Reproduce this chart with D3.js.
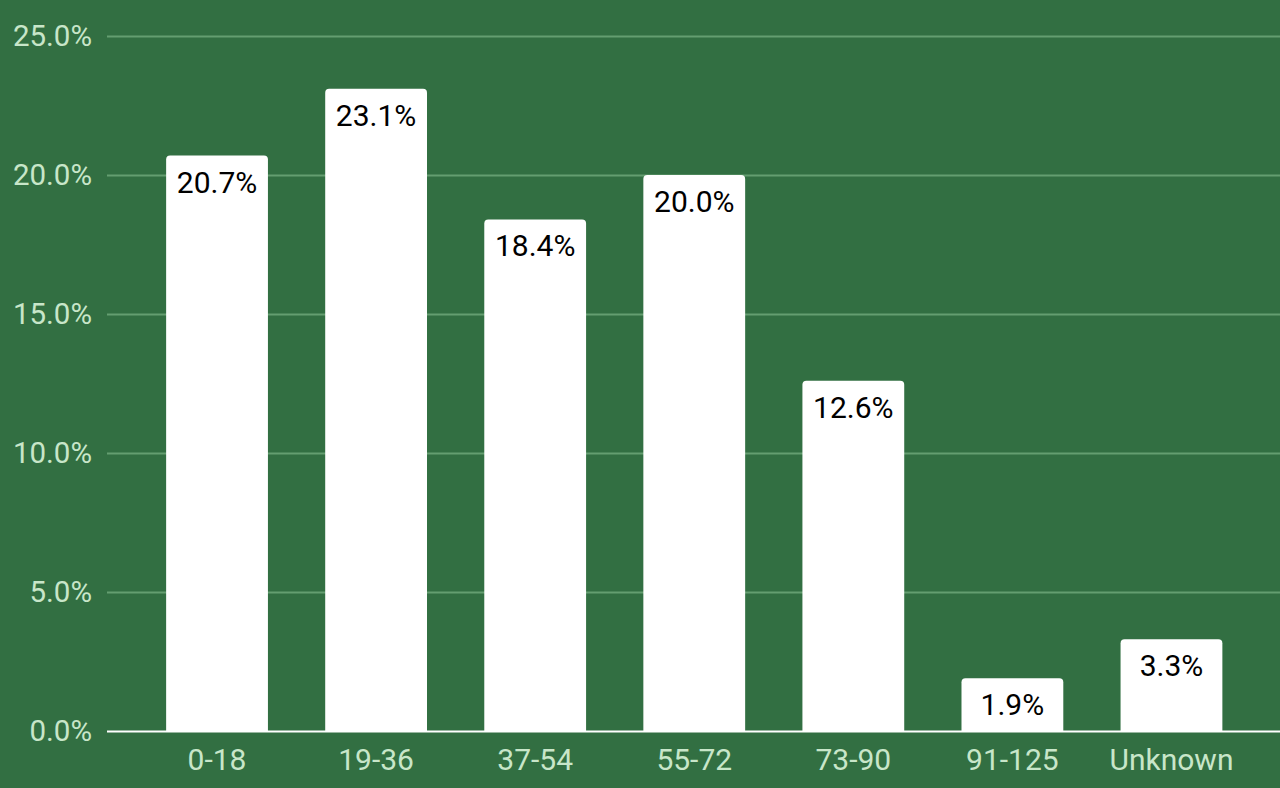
<!DOCTYPE html>
<html><head><meta charset="utf-8">
<script src="https://cdn.jsdelivr.net/npm/d3@7"></script>
<style>html,body{margin:0;padding:0;background:#326f42;}svg{display:block;}</style>
</head><body>
<svg id="chart" width="1280" height="788"></svg>
<script>
const categories = ["0-18","19-36","37-54","55-72","73-90","91-125","Unknown"];
const values = [20.7, 23.1, 18.4, 20.0, 12.6, 1.9, 3.3];
const yTicks = [0, 5, 10, 15, 20, 25];

const svg = d3.select("#chart");
const W = 1280, H = 788;
svg.append("rect").attr("width", W).attr("height", H).attr("fill", "#326f42");

const y = d3.scaleLinear().domain([0, 25]).range([731, 36]);
const x = d3.scaleBand().domain(categories).range([137.5, 1251]).paddingInner(0.36).paddingOuter(0.18);

// gridlines
svg.append("g").selectAll("line").data(yTicks.filter(t => t > 0)).join("line")
  .attr("x1", 107).attr("x2", W)
  .attr("y1", d => Math.round(y(d)) + 0.5).attr("y2", d => Math.round(y(d)) + 0.5)
  .attr("stroke", "#649e70").attr("stroke-width", 2);

// y labels
svg.append("g").selectAll("text").data(yTicks).join("text")
  .attr("x", 92).attr("y", d => y(d))
  .attr("dy", "0.35em").attr("text-anchor", "end")
  .attr("font-family", "Roboto, sans-serif").attr("font-size", 29.5)
  .attr("fill", "#c8e6c9")
  .text(d => d.toFixed(1) + "%");

// bars with rounded tops
const r = 4;
function barPath(d, i) {
  const x0 = x(categories[i]), w = x.bandwidth();
  const yt = y(d), yb = y(0);
  return `M${x0},${yb} L${x0},${yt + r} Q${x0},${yt} ${x0 + r},${yt} L${x0 + w - r},${yt} Q${x0 + w},${yt} ${x0 + w},${yt + r} L${x0 + w},${yb} Z`;
}
svg.append("g").selectAll("path").data(values).join("path")
  .attr("d", (d, i) => barPath(d, i)).attr("fill", "#ffffff");

// baseline
svg.append("line").attr("x1", 107).attr("x2", W)
  .attr("y1", y(0) + 0.5).attr("y2", y(0) + 0.5)
  .attr("stroke", "#ffffff").attr("stroke-width", 2);

// value labels
svg.append("g").selectAll("text").data(values).join("text")
  .attr("x", (d, i) => x(categories[i]) + x.bandwidth() / 2)
  .attr("y", d => y(d) + 37)
  .attr("text-anchor", "middle")
  .attr("font-family", "Roboto, sans-serif").attr("font-size", 30)
  .attr("fill", "#000000")
  .text(d => d.toFixed(1) + "%");

// x labels
svg.append("g").selectAll("text").data(categories).join("text")
  .attr("x", d => x(d) + x.bandwidth() / 2)
  .attr("y", 770)
  .attr("text-anchor", "middle")
  .attr("font-family", "Roboto, sans-serif").attr("font-size", 30)
  .attr("fill", "#c8e6c9")
  .text(d => d);
</script>
</body></html>
